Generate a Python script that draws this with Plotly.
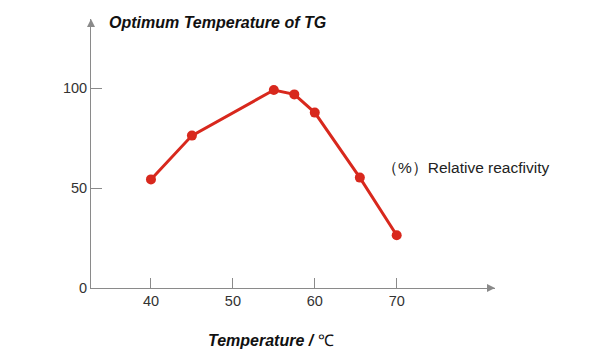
import plotly.graph_objects as go

temps = [40, 45, 55, 57.5, 60, 65.5, 70]
activity = [54.3, 76.2, 99.0, 96.8, 87.7, 55.2, 26.4]
x_ticks = [40, 50, 60, 70]
y_ticks = [0, 50, 100]

RED = "#d8281d"
GRAY = "#8a8a8a"
TXT = "#222222"

OFF = 8  # page body margin
W, H = 612 - OFF, 363 - OFF
L, R, T, B = 91 - OFF, 117, 19 - OFF, 75
pw, ph = W - L - R, H - T - B

fig = go.Figure()
fig.add_trace(go.Scatter(
    x=temps, y=activity, mode="lines+markers",
    line=dict(color=RED, width=3),
    marker=dict(color=RED, size=10),
    hoverinfo="skip", showlegend=False,
))

fig.update_layout(
    width=W, height=H,
    margin=dict(l=L, r=R, t=T, b=B),
    paper_bgcolor="white", plot_bgcolor="white",
    font=dict(family="Liberation Sans, Arial, sans-serif", size=14, color=TXT),
    xaxis=dict(
        range=[32.68, 82.0], tickvals=x_ticks, ticks="inside", ticklen=10,
        tickcolor=GRAY, showline=True, linecolor=GRAY, linewidth=1,
        showgrid=False, zeroline=False, fixedrange=True,
        tickfont=dict(size=14.5, color="#333333"),
    ),
    yaxis=dict(
        range=[0, 134.5], tickvals=y_ticks, ticks="inside", ticklen=11,
        tickcolor=GRAY, showline=True, linecolor=GRAY, linewidth=1,
        showgrid=False, zeroline=False, fixedrange=True,
        tickfont=dict(size=14.5, color="#333333"),
    ),
)

# axis arrow heads
ax = 8 / pw
ay = 4 / ph
fig.add_shape(type="path", xref="paper", yref="paper",
              path=f"M {1 - ax} {ay} L 1 0 L {1 - ax} {-ay} Z",
              fillcolor=GRAY, line=dict(width=0))
bx = 4 / pw
by = 8 / ph
fig.add_shape(type="path", xref="paper", yref="paper",
              path=f"M {-bx} {1 - by} L 0 1 L {bx} {1 - by} Z",
              fillcolor=GRAY, line=dict(width=0))

def px_x(p):
    return (p - OFF - L) / pw

def px_y(p):
    return (H - B - (p - OFF)) / ph

fig.add_annotation(
    text="<b><i>Optimum Temperature of TG</i></b>",
    xref="paper", yref="paper", x=px_x(107), y=px_y(22),
    xanchor="left", yanchor="middle", showarrow=False,
    font=dict(size=16, color="#111111"),
)
fig.add_annotation(
    text="<b><i>Temperature / </i></b>℃",
    xref="paper", yref="paper", x=px_x(271), y=px_y(340),
    xanchor="center", yanchor="middle", showarrow=False,
    font=dict(size=16, color="#111111"),
)
fig.add_annotation(
    text="（%）Relative reacfivity",
    xref="paper", yref="paper", x=px_x(380), y=px_y(167),
    xanchor="left", yanchor="middle", showarrow=False,
    font=dict(size=15.5, color="#222222"),
)

fig.write_html("out.html")
